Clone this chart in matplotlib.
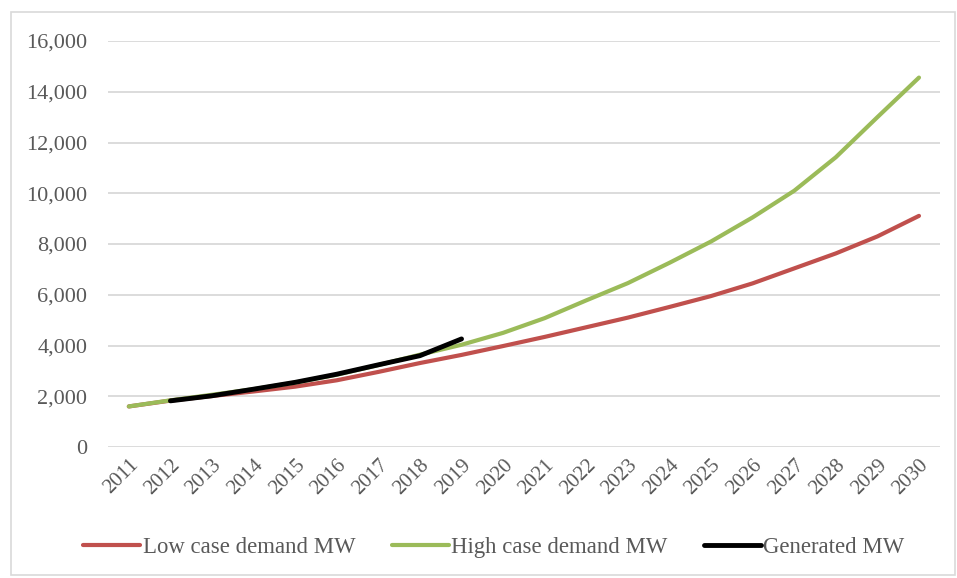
import matplotlib
matplotlib.use("Agg")
import matplotlib.pyplot as plt
from matplotlib.patches import Rectangle
from matplotlib.ticker import FuncFormatter

years = [str(y) for y in range(2011, 2031)]
low_case = [1600, 1830, 2010, 2190, 2380, 2630, 2960, 3310, 3630, 3980,
            4340, 4720, 5100, 5520, 5950, 6450, 7040, 7630, 8300, 9110]
high_case = [1600, 1840, 2060, 2280, 2540, 2850, 3230, 3640, 4030, 4500,
             5080, 5780, 6460, 7260, 8100, 9050, 10100, 11420, 13000, 14560]
gen_years = [str(y) for y in range(2012, 2020)]
generated = [1820, 2020, 2280, 2550, 2870, 3240, 3600, 4260]

plt.rcParams['font.family'] = ['Liberation Serif', 'DejaVu Serif']

fig = plt.figure(figsize=(9.57, 5.78), dpi=100)
ax = fig.add_axes([0.1129, 0.2266, 0.8691, 0.7024])

x_all = list(range(len(years)))
x_gen = [years.index(y) for y in gen_years]

ax.plot(x_all, low_case, color='#C0504D', lw=3.0, solid_capstyle='round',
        label='Low case demand MW', zorder=3)
ax.plot(x_all, high_case, color='#9BBB59', lw=3.0, solid_capstyle='round',
        label='High case demand MW', zorder=4)
ax.plot(x_gen, generated, color='black', lw=3.5, solid_capstyle='round',
        label='Generated MW', zorder=5)

ax.set_xlim(-0.5, len(years) - 0.5)
ax.set_ylim(0, 16000)
ax.set_yticks(range(0, 16001, 2000))
ax.yaxis.set_major_formatter(FuncFormatter(lambda v, p: f"{int(v):,}"))
ax.set_xticks(x_all)
ax.set_xticklabels(years, rotation=45, ha='right', rotation_mode='anchor')

ax.grid(axis='y', color='#D9D9D9', lw=1.3, zorder=0)
ax.set_axisbelow(True)
for s in ax.spines.values():
    s.set_visible(False)
ax.tick_params(axis='both', length=0, colors='#595959')
ax.tick_params(axis='y', pad=15, labelsize=16)
ax.tick_params(axis='x', pad=6, labelsize=15)

leg = fig.legend(loc='center', bbox_to_anchor=(0.516, 0.052), ncol=3,
                 frameon=False, fontsize=16.4, handlelength=2.5,
                 handletextpad=0.1, columnspacing=1.6)
for t in leg.get_texts():
    t.set_color('#595959')

fig.patches.append(Rectangle((0.011, 0.005), 0.987, 0.975, transform=fig.transFigure,
                             fill=False, edgecolor='#D9D9D9', lw=1.2))

fig.savefig('out.png', dpi=100)
